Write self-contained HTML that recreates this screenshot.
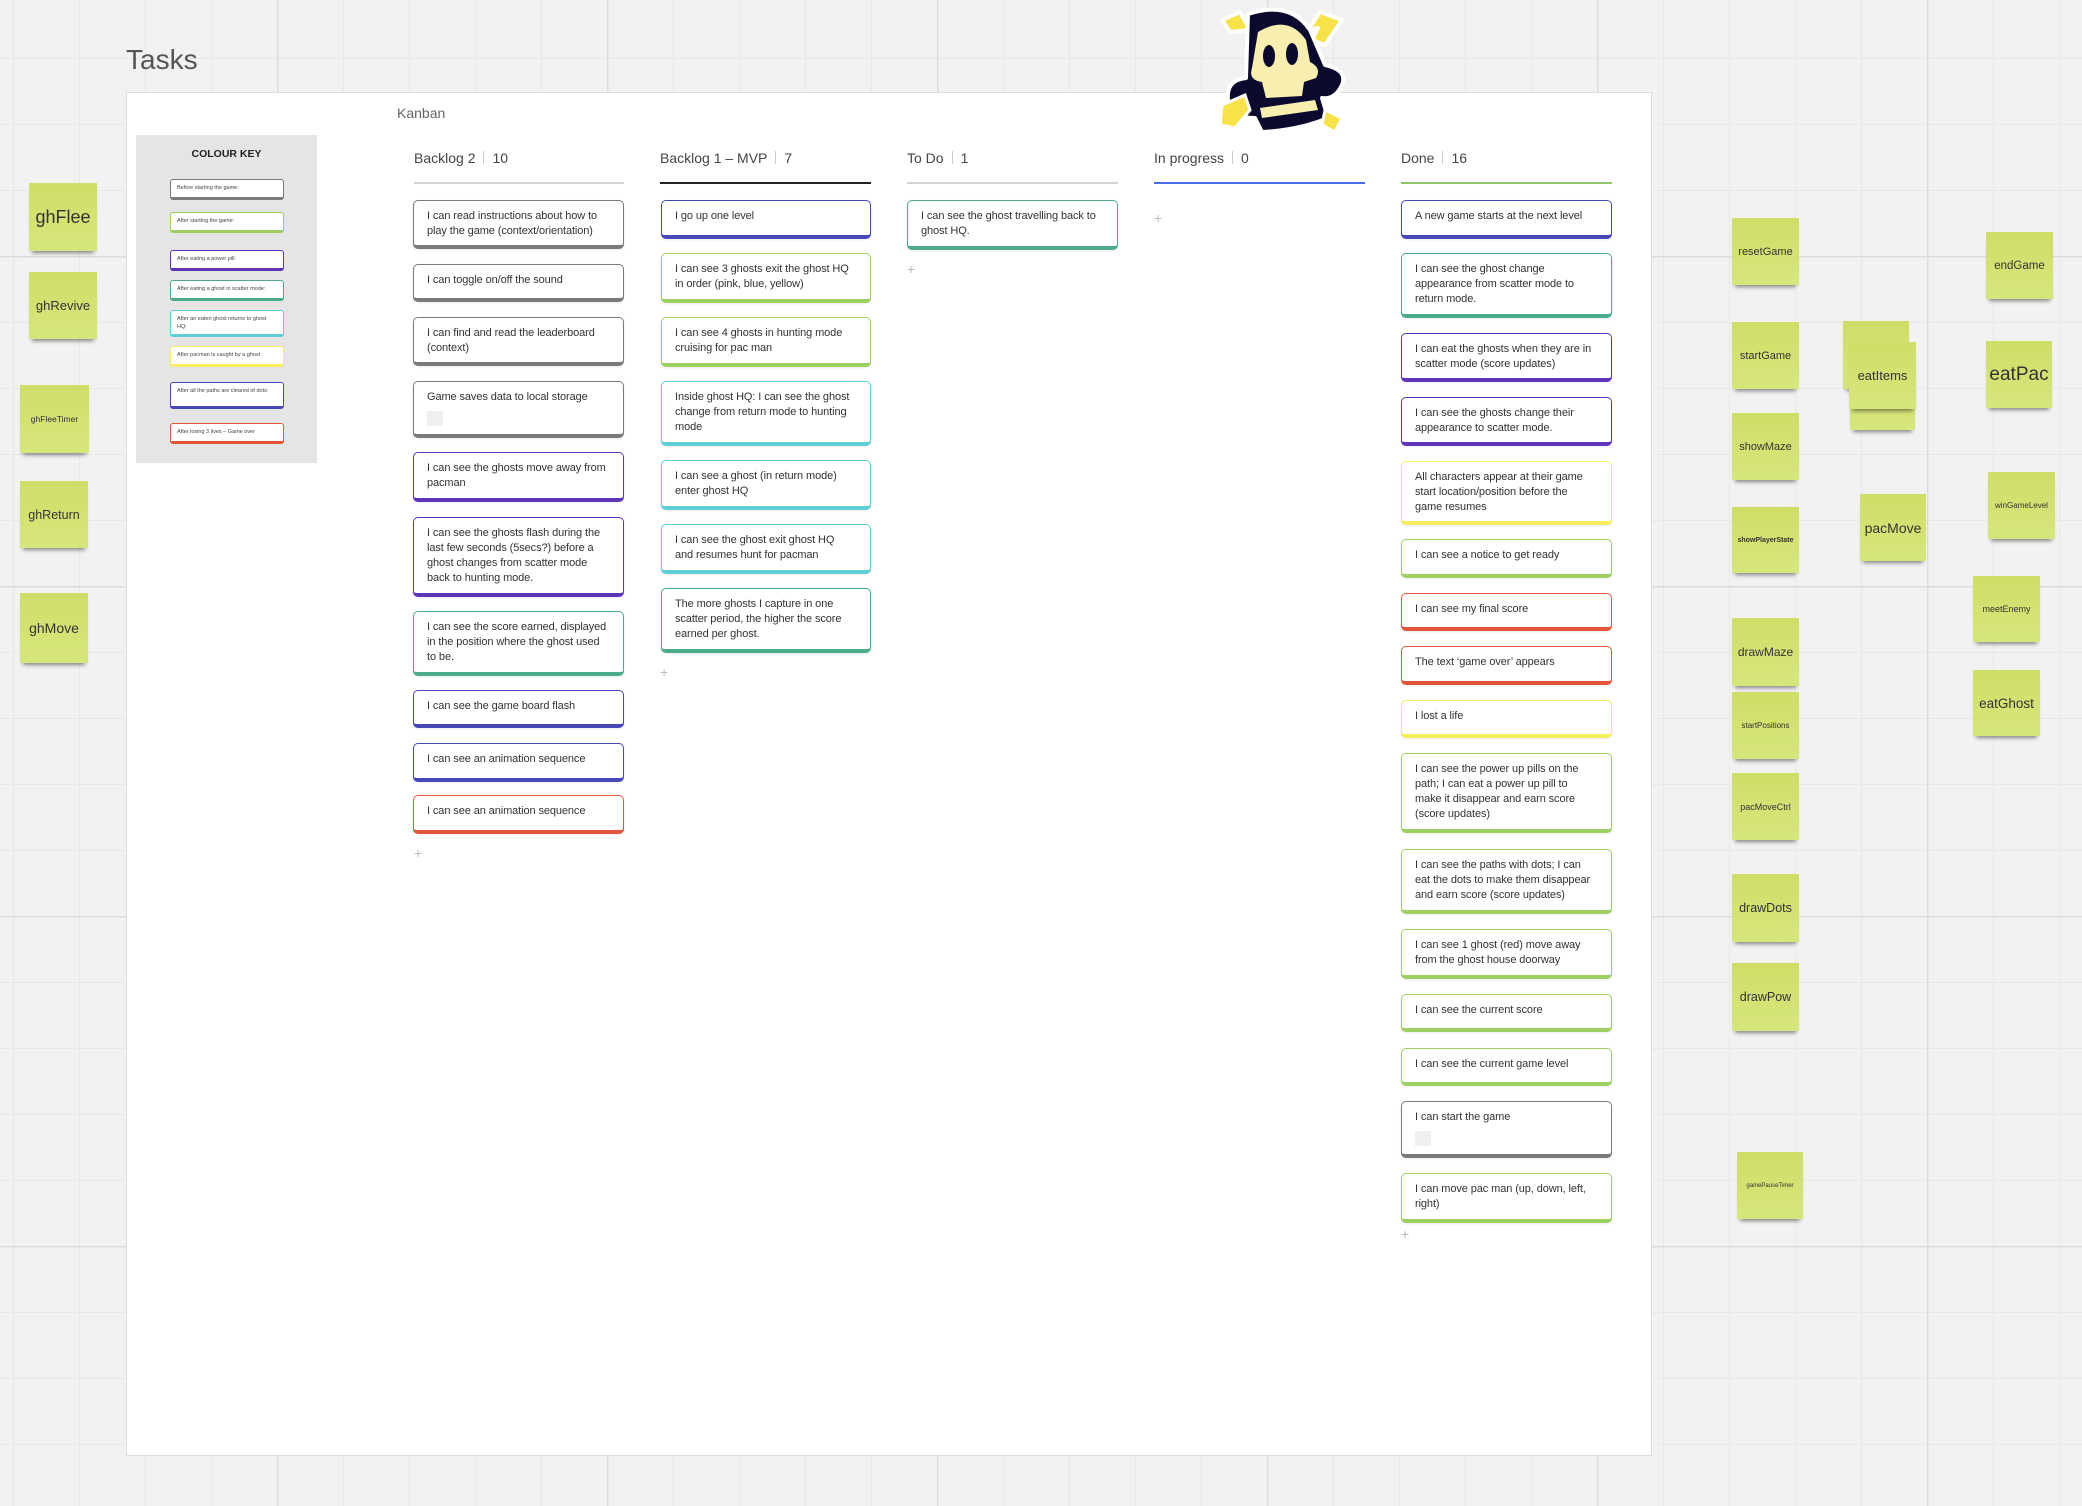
<!DOCTYPE html>
<html><head><meta charset="utf-8"><style>
*{box-sizing:border-box;margin:0;padding:0}
body{width:2082px;height:1506px;position:relative;overflow:hidden;background:#f2f2f2;font-family:"Liberation Sans",sans-serif;color:#333}
.a{position:absolute}
.board{left:126px;top:92px;width:1526px;height:1364px;background:#fff;border:1px solid #dcdcdc}
.hd{position:absolute;top:150px;font-size:14px;color:#444;white-space:nowrap}
.hd i{display:inline-block;width:1px;height:13px;background:#ccc;margin:0 8px;vertical-align:-1px}
.hl{position:absolute;top:182px;height:2px;background:#d4d4d4}
.c{position:absolute;background:#fff;border:1.6px solid #777;border-bottom-width:4px;border-radius:5px;font-size:11px;letter-spacing:-0.1px;line-height:15px;padding:8px 16px 0 13px;color:#333;box-shadow:0 1px 2px rgba(0,0,0,.08)}
.k{position:absolute;left:170px;width:114px;background:#fff;border:1.3px solid #777;border-bottom-width:3px;border-radius:3px;font-size:5.5px;line-height:8px;padding:4px 6px 0 6px;color:#444}
.sq{width:16px;height:15px;background:#efefef;margin-top:6px}
.g{border-color:#7a7a7a}.p{border-color:#5e35b8}.t{border-color:#4caa8e}.i{border-color:#4648b8}.r{border-color:#e3553a}.gr{border-color:#9dd062}.cy{border-color:#5ecfd7}.y{border-color:#f6ee5c}
.plus{position:absolute;color:#bbb;font-size:14px}
.n{position:absolute;background:linear-gradient(#cfde66,#d7e67c);box-shadow:0 5px 4px -3px rgba(0,0,0,.45);display:flex;align-items:center;justify-content:center;color:#333;white-space:nowrap}
</style></head><body>
<svg class="a" style="left:0;top:0" width="2082" height="1506">
<defs>
<pattern id="mn" x="13" y="58" width="66" height="66" patternUnits="userSpaceOnUse"><path d="M0 0H66M0 0V66" stroke="#e8e8e8" stroke-width="2" fill="none"/></pattern>
<pattern id="mj" x="277" y="256" width="330" height="330" patternUnits="userSpaceOnUse"><path d="M0 0H330M0 0V330" stroke="#dcdcdc" stroke-width="3" fill="none"/></pattern>
</defs>
<rect width="2082" height="1506" fill="url(#mn)"/><rect width="2082" height="1506" fill="url(#mj)"/>
</svg>
<div class="a" style="left:126px;top:44px;font-size:28px;color:#555">Tasks</div>
<div class="a board"></div>
<div class="a" style="left:397px;top:105px;font-size:14px;color:#666">Kanban</div>

<div class="a" style="left:136px;top:135px;width:181px;height:328px;background:#e5e5e5"></div>
<div class="a" style="left:136px;top:148px;width:181px;text-align:center;font-size:10.5px;font-weight:bold;color:#222">COLOUR KEY</div>
<div class="k g" style="top:179px;height:21px">Before starting the game:</div>
<div class="k gr" style="top:212px;height:21px">After starting the game:</div>
<div class="k p" style="top:250px;height:21px">After eating a power pill:</div>
<div class="k t" style="top:280px;height:21px">After eating a ghost in scatter mode:</div>
<div class="k cy" style="top:310px;height:27px">After an eaten ghost returns to ghost HQ:</div>
<div class="k y" style="top:346px;height:21px">After pacman is caught by a ghost</div>
<div class="k i" style="top:382px;height:27px">After all the paths are cleared of dots:</div>
<div class="k r" style="top:423px;height:21px">After losing 3 lives – Game over</div>

<div class="hd" style="left:414px">Backlog 2<i></i>10</div><div class="hl" style="left:414px;width:210px"></div>
<div class="hd" style="left:660px">Backlog 1 – MVP<i></i>7</div><div class="hl" style="left:660px;width:211px;background:#222"></div>
<div class="hd" style="left:907px">To Do<i></i>1</div><div class="hl" style="left:907px;width:211px"></div>
<div class="hd" style="left:1154px">In progress<i></i>0</div><div class="hl" style="left:1154px;width:211px;background:#4a6ef0"></div>
<div class="hd" style="left:1401px">Done<i></i>16</div><div class="hl" style="left:1401px;width:211px;background:#8fc86a"></div>

<div class="c g" style="left:413px;top:200px;width:211px;height:49px">I can read instructions about how to play the game (context/orientation)</div>
<div class="c g" style="left:413px;top:264px;width:211px;height:38px">I can toggle on/off the sound</div>
<div class="c g" style="left:413px;top:317px;width:211px;height:49px">I can find and read the leaderboard (context)</div>
<div class="c g" style="left:413px;top:381px;width:211px;height:57px">Game saves data to local storage<div class="sq"></div></div>
<div class="c p" style="left:413px;top:452px;width:211px;height:50px">I can see the ghosts move away from pacman</div>
<div class="c p" style="left:413px;top:517px;width:211px;height:80px">I can see the ghosts flash during the last few seconds (5secs?) before a ghost changes from scatter mode back to hunting mode.</div>
<div class="c t" style="left:413px;top:611px;width:211px;height:65px">I can see the score earned, displayed in the position where the ghost used to be.</div>
<div class="c i" style="left:413px;top:690px;width:211px;height:38px">I can see the game board flash</div>
<div class="c i" style="left:413px;top:743px;width:211px;height:39px">I can see an animation sequence</div>
<div class="c r" style="left:413px;top:795px;width:211px;height:39px">I can see an animation sequence</div>
<div class="plus" style="left:414px;top:845px">+</div>

<div class="c i" style="left:661px;top:200px;width:210px;height:39px">I go up one level</div>
<div class="c gr" style="left:661px;top:253px;width:210px;height:50px">I can see 3 ghosts exit the ghost HQ in order (pink, blue, yellow)</div>
<div class="c gr" style="left:661px;top:317px;width:210px;height:50px">I can see 4 ghosts in hunting mode cruising for pac man</div>
<div class="c cy" style="left:661px;top:381px;width:210px;height:65px">Inside ghost HQ: I can see the ghost change from return mode to hunting mode</div>
<div class="c cy" style="left:661px;top:460px;width:210px;height:50px">I can see a ghost (in return mode) enter ghost HQ</div>
<div class="c cy" style="left:661px;top:524px;width:210px;height:50px">I can see the ghost exit ghost HQ and resumes hunt for pacman</div>
<div class="c t" style="left:661px;top:588px;width:210px;height:65px">The more ghosts I capture in one scatter period, the higher the score earned per ghost.</div>
<div class="plus" style="left:660px;top:664px">+</div>

<div class="c t" style="left:907px;top:200px;width:211px;height:50px">I can see the ghost travelling back to ghost HQ.</div>
<div class="plus" style="left:907px;top:261px">+</div>
<div class="plus" style="left:1154px;top:210px">+</div>

<div class="c i" style="left:1401px;top:200px;width:211px;height:39px">A new game starts at the next level</div>
<div class="c t" style="left:1401px;top:253px;width:211px;height:65px">I can see the ghost change appearance from scatter mode to return mode.</div>
<div class="c p" style="left:1401px;top:333px;width:211px;height:49px">I can eat the ghosts when they are in scatter mode (score updates)</div>
<div class="c p" style="left:1401px;top:397px;width:211px;height:49px">I can see the ghosts change their appearance to scatter mode.</div>
<div class="c y" style="left:1401px;top:461px;width:211px;height:64px">All characters appear at their game start location/position before the game resumes</div>
<div class="c gr" style="left:1401px;top:539px;width:211px;height:39px">I can see a notice to get ready</div>
<div class="c r" style="left:1401px;top:593px;width:211px;height:38px">I can see my final score</div>
<div class="c r" style="left:1401px;top:646px;width:211px;height:39px">The text ‘game over’ appears</div>
<div class="c y" style="left:1401px;top:700px;width:211px;height:38px">I lost a life</div>
<div class="c gr" style="left:1401px;top:753px;width:211px;height:80px">I can see the power up pills on the path; I can eat a power up pill to make it disappear and earn score (score updates)</div>
<div class="c gr" style="left:1401px;top:849px;width:211px;height:65px">I can see the paths with dots; I can eat the dots to make them disappear and earn score (score updates)</div>
<div class="c gr" style="left:1401px;top:929px;width:211px;height:50px">I can see 1 ghost (red) move away from the ghost house doorway</div>
<div class="c gr" style="left:1401px;top:994px;width:211px;height:38px">I can see the current score</div>
<div class="c gr" style="left:1401px;top:1048px;width:211px;height:38px">I can see the current game level</div>
<div class="c g" style="left:1401px;top:1101px;width:211px;height:57px">I can start the game<div class="sq"></div></div>
<div class="c gr" style="left:1401px;top:1173px;width:211px;height:50px">I can move pac man (up, down, left, right)</div>
<div class="plus" style="left:1401px;top:1226px">+</div>

<svg class="a" style="left:1210px;top:0" width="140" height="140" viewBox="1210 0 140 140">
<g stroke="#fff" stroke-width="4" stroke-linejoin="round">
<path d="M1222 20 L1240 12 L1250 30 L1230 32Z" fill="#f7e24a"/>
<path d="M1320 12 L1342 20 L1325 45 L1312 40 L1318 28 L1308 30Z" fill="#f7e24a"/>
<path d="M1248 14 Q1290 0 1310 30 L1325 65 Q1348 70 1342 85 Q1335 100 1322 98 L1328 118 Q1300 130 1262 132 L1255 118 Q1230 118 1228 100 Q1226 80 1246 78 Z" fill="#0b0a2e"/>
</g>
<path d="M1258 32 Q1288 14 1306 40 L1310 62 Q1322 68 1316 78 L1304 82 L1302 96 L1266 98 L1262 82 Q1248 80 1252 68 Z" fill="#f7eeb0"/>
<ellipse cx="1269" cy="56" rx="6" ry="11" fill="#0b0a2e"/><ellipse cx="1292" cy="54" rx="6" ry="11" fill="#0b0a2e"/>
<path d="M1260 108 L1315 100 L1318 110 L1262 118Z" fill="#f7eeb0"/>
<path d="M1222 105 L1245 95 L1250 110 L1235 128 L1220 125Z" fill="#f7e24a" stroke="#fff" stroke-width="3"/>
<path d="M1325 110 L1342 118 L1335 132 L1322 125Z" fill="#f7e24a" stroke="#fff" stroke-width="3"/>
</svg>

<div class="n" style="left:29px;top:183px;width:68px;height:68px;font-size:18px">ghFlee</div>
<div class="n" style="left:29px;top:272px;width:68px;height:67px;font-size:13px">ghRevive</div>
<div class="n" style="left:20px;top:385px;width:69px;height:68px;font-size:8.5px">ghFleeTimer</div>
<div class="n" style="left:20px;top:481px;width:68px;height:67px;font-size:12.5px">ghReturn</div>
<div class="n" style="left:20px;top:593px;width:68px;height:70px;font-size:14px">ghMove</div>

<div class="n" style="left:1732px;top:218px;width:67px;height:67px;font-size:11px">resetGame</div>
<div class="n" style="left:1732px;top:322px;width:67px;height:67px;font-size:11px">startGame</div>
<div class="n" style="left:1732px;top:413px;width:67px;height:67px;font-size:11px">showMaze</div>
<div class="n" style="left:1732px;top:507px;width:67px;height:66px;font-size:7px;font-weight:bold">showPlayerState</div>
<div class="n" style="left:1732px;top:618px;width:67px;height:68px;font-size:12px">drawMaze</div>
<div class="n" style="left:1732px;top:692px;width:67px;height:67px;font-size:8px">startPositions</div>
<div class="n" style="left:1732px;top:773px;width:67px;height:67px;font-size:9px">pacMoveCtrl</div>
<div class="n" style="left:1732px;top:874px;width:67px;height:68px;font-size:12.5px">drawDots</div>
<div class="n" style="left:1732px;top:963px;width:67px;height:68px;font-size:12.5px">drawPow</div>
<div class="n" style="left:1737px;top:1152px;width:66px;height:67px;font-size:6px">gamePauseTimer</div>
<div class="n" style="left:1850px;top:363px;width:65px;height:67px"></div>
<div class="n" style="left:1843px;top:321px;width:66px;height:68px"></div>
<div class="n" style="left:1849px;top:342px;width:67px;height:67px;font-size:13px">eatItems</div>
<div class="n" style="left:1860px;top:494px;width:66px;height:67px;font-size:14px">pacMove</div>
<div class="n" style="left:1986px;top:232px;width:67px;height:67px;font-size:11.5px">endGame</div>
<div class="n" style="left:1986px;top:341px;width:66px;height:67px;font-size:19px">eatPac</div>
<div class="n" style="left:1988px;top:472px;width:67px;height:67px;font-size:8px">winGameLevel</div>
<div class="n" style="left:1973px;top:576px;width:67px;height:66px;font-size:9px">meetEnemy</div>
<div class="n" style="left:1973px;top:670px;width:67px;height:66px;font-size:13.5px">eatGhost</div>
</body></html>
